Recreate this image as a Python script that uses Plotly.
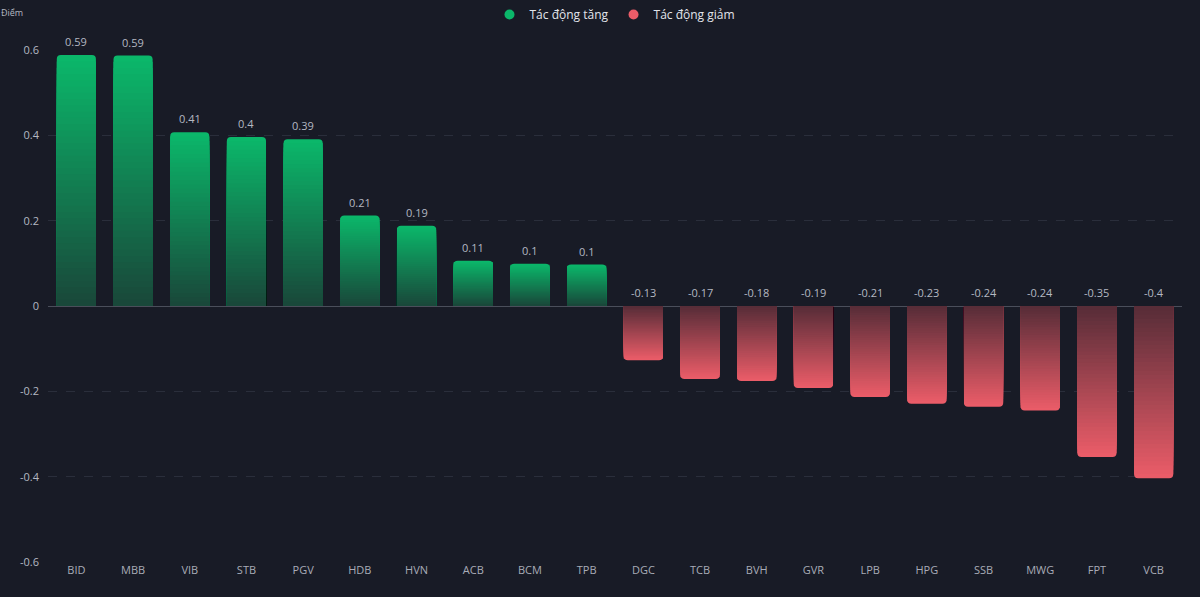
import plotly.graph_objects as go

categories = ["BID", "MBB", "VIB", "STB", "PGV", "HDB", "HVN", "ACB", "BCM", "TPB",
              "DGC", "TCB", "BVH", "GVR", "LPB", "HPG", "SSB", "MWG", "FPT", "VCB"]
values = [0.588, 0.587, 0.407, 0.396, 0.391, 0.212, 0.188, 0.106, 0.099, 0.097,
          -0.127, -0.171, -0.176, -0.192, -0.213, -0.229, -0.236, -0.245, -0.354, -0.404]
legend_names = ["Tác động tăng", "Tác động giảm"]
y_ticks = [-0.6, -0.4, -0.2, 0, 0.2, 0.4, 0.6]

GREEN_BRIGHT = (11, 183, 106)
GREEN_DARK = (25, 72, 58)
RED_BRIGHT = (234, 92, 104)
RED_DARK = (88, 45, 56)
BG = "#181b26"


def mix(a, b, t):
    return "rgb(%d,%d,%d)" % tuple(round(a[i] + (b[i] - a[i]) * t) for i in range(3))


fig = go.Figure()
N = 40
for k in range(N):
    frac = 1 - k / N
    t = k / (N - 1)
    colors = [mix(GREEN_BRIGHT, GREEN_DARK, t) if v >= 0 else mix(RED_BRIGHT, RED_DARK, t)
              for v in values]
    fig.add_trace(go.Bar(
        x=categories, y=[v * frac for v in values],
        marker=dict(color=colors, line=dict(width=0), cornerradius=4 if k == 0 else 0),
        width=0.69, showlegend=False, hoverinfo="skip"))

for name, col in zip(legend_names, ["#0bb76a", "#ea5c68"]):
    fig.add_trace(go.Scatter(x=[None], y=[None], mode="markers", name=name,
                             marker=dict(color=col, size=10, symbol="circle")))

for c, v in zip(categories, values):
    fig.add_annotation(x=c, y=max(v, 0), text=f"{v:.2f}".rstrip("0").rstrip("."),
                       showarrow=False, yanchor="bottom", yshift=4,
                       font=dict(size=11, color="#b4b8c2", family="Open Sans"))

fig.add_annotation(x=0, y=1, xref="paper", yref="paper", xanchor="left", yanchor="top",
                   text="Điểm", showarrow=False, xshift=-49, yshift=46,
                   font=dict(size=9, color="#b4b8c2", family="Open Sans"))

fig.update_layout(
    width=1200, height=597,
    paper_bgcolor=BG, plot_bgcolor=BG,
    barmode="overlay",
    margin=dict(l=48, r=18, t=50, b=35),
    font=dict(family="Open Sans", color="#b4b8c2", size=11),
    legend=dict(orientation="h", x=0.5, xanchor="center", y=1.0, yanchor="top",
                yref="container", font=dict(size=12, color="#e2e4ea"),
                bgcolor="rgba(0,0,0,0)", itemwidth=30),
    xaxis=dict(showgrid=False, zeroline=False, showline=False, ticks="",
               tickfont=dict(size=11, color="#a8acb7")),
    yaxis=dict(range=[-0.6, 0.6], tickvals=y_ticks, ticktext=[str(t) for t in y_ticks],
               showgrid=True, gridcolor="#2a2e3b", griddash="dash", gridwidth=1,
               zeroline=True, zerolinecolor="#4a4e5a", zerolinewidth=1,
               tickfont=dict(size=11, color="#b4b8c2"), ticks="", ticklabelstandoff=8),
)

fig.write_html("out.html", config={"displayModeBar": False},
               post_script="document.body.style.margin='0';document.body.style.background='#181b26';")
